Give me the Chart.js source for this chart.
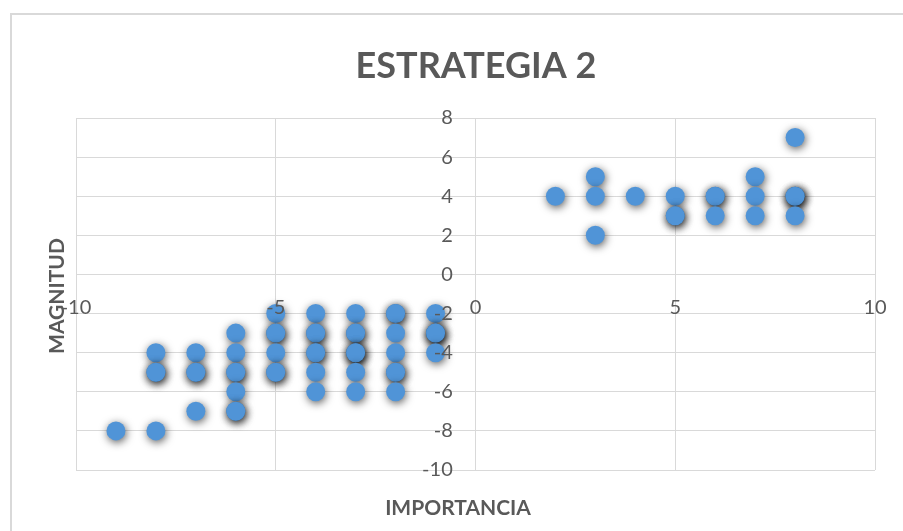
<!DOCTYPE html>
<html>
<head>
<meta charset="utf-8">
<script src="https://cdn.jsdelivr.net/npm/chart.js@4"></script>
<style>
  html, body { margin: 0; padding: 0; background: #ffffff; }
  #wrap { position: relative; width: 903px; height: 531px; }
</style>
</head>
<body>
<div id="wrap"><canvas id="c" width="903" height="531"></canvas></div>
<script>
// ---- data ----
const chartTitle = "ESTRATEGIA 2";
const xAxisTitle = "IMPORTANCIA";
const yAxisTitle = "MAGNITUD";

// IMPORTANCIA values (x), one entry per observation (repeats = overlapping points)
const importancia = [
  -9,
  -8, -8, -8, -8,
  -7, -7, -7, -7,
  -6, -6, -6, -6, -6, -6, -6,
  -5, -5, -5, -5, -5, -5,
  -4, -4, -4, -4, -4, -4, -4,
  -3, -3, -3, -3, -3, -3, -3, -3,
  -2, -2, -2, -2, -2, -2, -2,
  -1, -1, -1, -1, -1,
  2,
  3, 3, 3,
  4,
  5, 5, 5,
  6, 6, 6,
  7, 7, 7,
  8, 8, 8, 8, 8
];
// MAGNITUD values (y), matching the entries above
const magnitud = [
  -8,
  -4, -5, -5, -8,
  -4, -5, -5, -7,
  -3, -4, -5, -5, -6, -7, -7,
  -2, -3, -3, -4, -5, -5,
  -2, -3, -3, -4, -4, -5, -6,
  -2, -3, -3, -4, -4, -4, -5, -6,
  -2, -2, -3, -4, -5, -5, -6,
  -2, -3, -3, -3, -4,
  4,
  5, 4, 2,
  4,
  4, 3, 3,
  4, 4, 3,
  5, 4, 3,
  7, 4, 4, 4, 3
];

const xTickStep = 5, xMin = -10, xMax = 10;
const yTickStep = 2, yMin = -10, yMax = 8;

const points = importancia.map((x, i) => ({ x: x, y: magnitud[i] }));

const TEXT = '#595959';
const GRID = '#d9d9d9';
const TICK_FONT = { family: 'Lato', size: 20 };

const decor = {
  id: 'decor',
  beforeDraw(chart) {
    const ctx = chart.ctx;
    ctx.save();
    ctx.strokeStyle = GRID;
    ctx.lineWidth = 2;
    ctx.beginPath();
    ctx.moveTo(11, 540);
    ctx.lineTo(11, 14);
    ctx.lineTo(910, 14);
    ctx.stroke();
    ctx.restore();
  },
  beforeDatasetDraw(chart) {
    const ctx = chart.ctx;
    ctx.save();
    ctx.shadowColor = 'rgba(0,0,0,0.65)';
    ctx.shadowBlur = 8;
    ctx.shadowOffsetX = 1;
    ctx.shadowOffsetY = 2;
  },
  afterDatasetDraw(chart) {
    chart.ctx.restore();
  },
  afterDraw(chart) {
    const ctx = chart.ctx;
    ctx.save();
    ctx.fillStyle = TEXT;
    ctx.textAlign = 'center';
    ctx.textBaseline = 'middle';
    ctx.font = 'bold 36px Lato';
    ctx.fillText(chartTitle, 476, 66);
    ctx.font = 'bold 21px Lato';
    ctx.fillText(xAxisTitle, 458, 508);
    ctx.translate(57, 296);
    ctx.rotate(-Math.PI / 2);
    ctx.fillText(yAxisTitle, 0, 0);
    ctx.restore();
  }
};

new Chart(document.getElementById('c'), {
  type: 'scatter',
  data: {
    datasets: [{
      label: 'MAGNITUD',
      data: points,
      xAxisID: 'x',
      yAxisID: 'y',
      backgroundColor: '#5094D7',
      borderColor: '#5094D7',
      borderWidth: 0,
      pointRadius: 9.5,
      pointHoverRadius: 9.5
    }]
  },
  options: {
    responsive: false,
    animation: false,
    devicePixelRatio: 1,
    layout: { padding: { left: 76, right: 28, top: 118, bottom: 61 } },
    plugins: {
      legend: { display: false },
      tooltip: { enabled: false },
      title: { display: false }
    },
    scales: {
      x: {
        type: 'linear',
        position: { y: 0 },
        min: xMin, max: xMax,
        ticks: { stepSize: xTickStep, color: TEXT, font: TICK_FONT, padding: 0, z: 1 },
        grid: { color: GRID, lineWidth: 1, drawTicks: true, tickLength: 21, tickColor: 'rgba(0,0,0,0)' },
        border: { display: true, color: GRID, width: 1 }
      },
      y: {
        type: 'linear',
        position: { x: 0 },
        min: yMin, max: yMax,
        ticks: { stepSize: yTickStep, display: false },
        grid: { color: GRID, lineWidth: 1, drawTicks: false },
        border: { display: true, color: GRID, width: 1 }
      },
      yLabels: {
        type: 'linear',
        axis: 'y',
        position: { x: -0.57 },
        min: yMin, max: yMax,
        ticks: { stepSize: yTickStep, color: TEXT, font: TICK_FONT, padding: 0, z: 1 },
        grid: { display: false, drawTicks: false },
        border: { display: false }
      }
    }
  },
  plugins: [decor]
});
</script>
</body>
</html>
